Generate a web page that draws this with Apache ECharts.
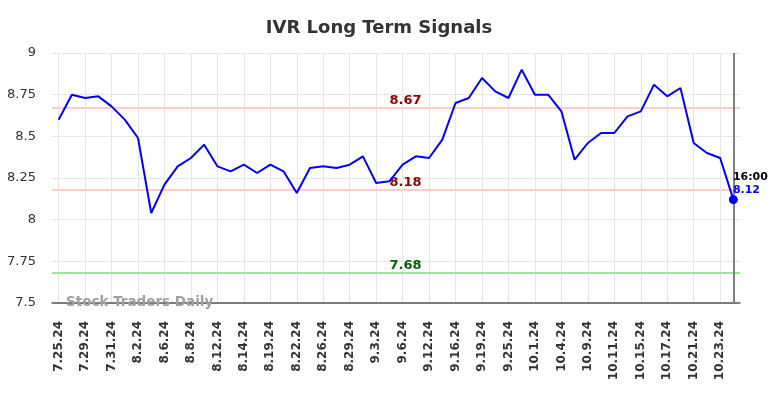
<!DOCTYPE html>
<html>
<head>
<meta charset="utf-8">
<script src="https://cdn.jsdelivr.net/npm/echarts@6/dist/echarts.min.js"></script>
<style>
html,body{margin:0;padding:0;background:#fff;}
#chart{width:784px;height:398px;}
</style>
</head>
<body>
<div id="chart"></div>
<script>
var categories = ['7.25.24','7.26.24','7.29.24','7.30.24','7.31.24','8.1.24','8.2.24','8.5.24','8.6.24','8.7.24',
  '8.8.24','8.9.24','8.12.24','8.13.24','8.14.24','8.16.24','8.19.24','8.20.24','8.22.24','8.23.24',
  '8.26.24','8.27.24','8.29.24','8.30.24','9.3.24','9.4.24','9.6.24','9.10.24','9.12.24','9.13.24',
  '9.16.24','9.17.24','9.19.24','9.20.24','9.25.24','9.27.24','10.1.24','10.2.24','10.4.24','10.7.24',
  '10.9.24','10.10.24','10.11.24','10.14.24','10.15.24','10.16.24','10.17.24','10.18.24','10.21.24','10.22.24',
  '10.23.24','10.25.24'];
var prices = [8.60,8.75,8.73,8.74,8.68,8.60,8.49,8.04,8.21,8.32,
  8.37,8.45,8.32,8.29,8.33,8.28,8.33,8.29,8.16,8.31,
  8.32,8.31,8.33,8.38,8.22,8.23,8.33,8.38,8.37,8.48,
  8.70,8.73,8.85,8.77,8.73,8.90,8.75,8.75,8.65,8.36,
  8.46,8.52,8.52,8.62,8.65,8.81,8.74,8.79,8.46,8.40,
  8.37,8.12];
var resistance = 8.67;
var support = 8.18;
var lowerSignal = 7.68;
var yTicks = [7.5, 7.75, 8, 8.25, 8.5, 8.75, 9];
var lastTimeLabel = '16:00';
var signalLabelCategory = '9.6.24';

var lastIdx = prices.length - 1;
var font = 'DejaVu Sans';
var chart = echarts.init(document.getElementById('chart'));
chart.setOption({
  animation: false,
  backgroundColor: '#ffffff',
  title: {
    text: 'IVR Long Term Signals',
    left: 374, top: 14, textAlign: 'center',
    textStyle: {fontFamily: font, fontSize: 18, fontWeight: 'bold', color: '#333333'}
  },
  grid: {left: 52, right: 44, top: 53, bottom: 95},
  xAxis: {
    type: 'category',
    data: categories,
    boundaryGap: true,
    axisLine: {show: true, lineStyle: {color: '#555555', width: 1.5}},
    axisTick: {show: false},
    axisLabel: {interval: 1, rotate: 90, margin: 18, fontFamily: font, fontSize: 12, fontWeight: 'bold', color: '#333333'},
    splitLine: {show: true, interval: 1, alignWithLabel: true, lineStyle: {color: '#e6e6e6', width: 1}}
  },
  yAxis: {
    type: 'value',
    min: yTicks[0], max: yTicks[yTicks.length - 1], interval: 0.25,
    axisLine: {show: false},
    axisTick: {show: false},
    axisLabel: {margin: 16, fontFamily: font, fontSize: 13, color: '#333333',
      formatter: function (v) { return String(+v.toFixed(2)); }},
    splitLine: {show: true, lineStyle: {color: '#e6e6e6', width: 1}}
  },
  graphic: [{
    type: 'text', left: 66, top: 295, z: 100,
    style: {text: 'Stock Traders Daily', fontFamily: font, fontSize: 13.5, fontWeight: 'bold', fill: '#a0a0a0'}
  }],
  series: [{
    type: 'line',
    data: prices,
    symbol: 'none',
    lineStyle: {color: '#0000ff', width: 2},
    z: 5,
    markLine: {
      silent: true,
      symbol: 'none',
      label: {show: false},
      data: [
        {yAxis: resistance, lineStyle: {color: '#ffcccc', width: 2, type: 'solid'}},
        {yAxis: support, lineStyle: {color: '#ffcccc', width: 2, type: 'solid'}},
        {yAxis: lowerSignal, lineStyle: {color: '#90ee90', width: 2, type: 'solid'}},
        {xAxis: categories[lastIdx], lineStyle: {color: '#808080', width: 2, type: 'solid'}}
      ]
    },
    markPoint: {
      silent: true,
      data: [
        {coord: [signalLabelCategory, resistance], symbol: 'circle', symbolSize: 0,
          label: {show: true, formatter: resistance.toFixed(2), offset: [3, -7], fontFamily: font, fontSize: 13, fontWeight: 'bold', color: '#8b0000'}},
        {coord: [signalLabelCategory, support], symbol: 'circle', symbolSize: 0,
          label: {show: true, formatter: support.toFixed(2), offset: [3, -7], fontFamily: font, fontSize: 13, fontWeight: 'bold', color: '#8b0000'}},
        {coord: [signalLabelCategory, lowerSignal], symbol: 'circle', symbolSize: 0,
          label: {show: true, formatter: lowerSignal.toFixed(2), offset: [3, -7], fontFamily: font, fontSize: 13, fontWeight: 'bold', color: '#006400'}},
        {coord: [categories[lastIdx], prices[lastIdx]], symbol: 'circle', symbolSize: 9,
          itemStyle: {color: '#0000ff'},
          label: {show: true, position: [4, -25], align: 'left', verticalAlign: 'top',
            formatter: '{t|' + lastTimeLabel + '}\n{v|' + prices[lastIdx].toFixed(2) + '}',
            rich: {
              t: {fontFamily: font, fontSize: 11, fontWeight: 'bold', color: '#000000', lineHeight: 13},
              v: {fontFamily: font, fontSize: 11, fontWeight: 'bold', color: '#0000ff', lineHeight: 13}
            }}}
      ]
    }
  }]
});
</script>
</body>
</html>
